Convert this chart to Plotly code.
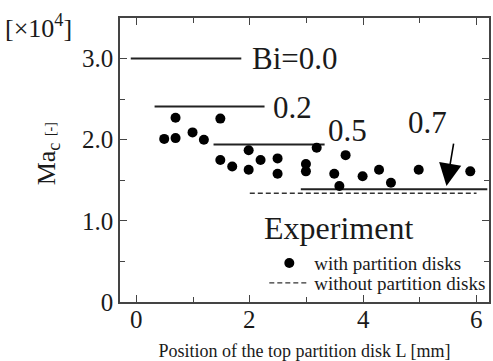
import plotly.graph_objects as go

# Experimental data: with partition disks
L_exp = [0.49, 0.69, 0.69, 0.99, 1.19, 1.48, 1.48, 1.69, 1.98, 1.98, 2.19, 2.49, 2.49,
         2.99, 2.99, 3.18, 3.49, 3.58, 3.69, 3.99, 4.28, 4.49, 4.98, 5.89]
Ma_exp = [2.01, 2.02, 2.27, 2.09, 2.00, 2.26, 1.75, 1.67, 1.87, 1.63, 1.75, 1.77, 1.58,
          1.70, 1.61, 1.90, 1.58, 1.43, 1.81, 1.55, 1.63, 1.47, 1.63, 1.61]

# Predicted critical Ma for each Bi (horizontal segments)
Bi_labels = ["Bi=0.0", "0.2", "0.5", "0.7"]
Bi_x0 = [-0.10, 0.32, 1.36, 2.90]
Bi_x1 = [1.85, 2.26, 3.32, 6.19]
Bi_Ma = [3.00, 2.41, 1.94, 1.39]
Bi_label_x = [2.00, 2.38, 3.35, 4.75]
Bi_label_y = [3.00, 2.40, 2.11, 2.21]

# Without partition disks (dashed)
L_nodisk = [2.0, 6.0]
Ma_nodisk = [1.34, 1.34]

# Arrow pointing to Bi=0.7 line
arrow_tail = (5.60, 1.97)
arrow_tip = (5.47, 1.43)

# Axis ticks
x_tickvals = [0, 2, 4, 6]
x_ticktext = ["0", "2", "4", "6"]
y_tickvals = [0, 1, 2, 3]
y_ticktext = ["0", "1.0", "2.0", "3.0"]

FONT = "'Liberation Serif', 'Times New Roman', serif"
INK = "#1a1a1a"

fig = go.Figure()

for i in range(len(Bi_labels)):
    fig.add_trace(go.Scatter(x=[Bi_x0[i], Bi_x1[i]], y=[Bi_Ma[i], Bi_Ma[i]], mode="lines",
                             line=dict(color="#222222", width=2), showlegend=False,
                             hoverinfo="skip"))

fig.add_trace(go.Scatter(x=L_exp, y=Ma_exp, mode="markers",
                         marker=dict(color="black", size=10),
                         name="with partition disks", legend="legend"))
fig.add_trace(go.Scatter(x=L_nodisk, y=Ma_nodisk, mode="lines",
                         line=dict(color="#333333", width=1.3, dash="5px,3px"),
                         name="without partition disks", legend="legend2"))

for i, t in enumerate(Bi_labels):
    fig.add_annotation(x=Bi_label_x[i], y=Bi_label_y[i], text=t, showarrow=False,
                       xanchor="left", yanchor="middle",
                       font=dict(family=FONT, size=31, color=INK))

fig.add_annotation(x=arrow_tip[0], y=arrow_tip[1], ax=arrow_tail[0], ay=arrow_tail[1],
                   axref="x", ayref="y", xref="x", yref="y", text="",
                   showarrow=True, arrowhead=2, arrowsize=2.8, arrowwidth=1.6,
                   arrowcolor="black")

# x tick labels placed on the x scale, close to the axis line
for v, t in zip(x_tickvals, x_ticktext):
    fig.add_annotation(x=v, xref="x", y=0, yref="paper", yanchor="top", yshift=-2,
                       text=t, showarrow=False,
                       font=dict(family=FONT, size=25, color=INK))

# Legend heading
fig.add_annotation(xref="paper", yref="paper", x=0.386, y=0.26, xanchor="left",
                   yanchor="middle", text="Experiment", showarrow=False,
                   font=dict(family=FONT, size=32, color=INK))

# Unit label and y-axis title
fig.add_annotation(xref="paper", yref="paper", x=-0.22, y=0.97, xanchor="center",
                   yanchor="middle", text="[×10<sup>4</sup>]", showarrow=False,
                   font=dict(family=FONT, size=26, color=INK))
fig.add_annotation(xref="paper", yref="paper", x=-0.195, y=0.52, xanchor="center",
                   yanchor="middle", textangle=-90,
                   text="Ma<sub>c</sub> <span style='font-size:14px'>[-]</span>",
                   showarrow=False, font=dict(family=FONT, size=26, color=INK))

axis_common = dict(showline=True, linecolor="#444444", linewidth=1.5, mirror="ticks",
                   ticks="inside", tickcolor="#444444", tickwidth=1.3, ticklen=7,
                   showgrid=False, zeroline=False, automargin=False,
                   tickfont=dict(family=FONT, size=25, color=INK))

fig.update_xaxes(range=[-0.29, 6.22], tickvals=x_tickvals, showticklabels=False,
                 minor=dict(dtick=1, tick0=0, ticks="inside", ticklen=5,
                            tickcolor="#444444", tickwidth=1.3),
                 title=dict(text="Position of the top partition disk L [mm]",
                            font=dict(family=FONT, size=18, color=INK), standoff=43),
                 **axis_common)
fig.update_yaxes(range=[0, 3.5], tickvals=y_tickvals, ticktext=y_ticktext,
                 minor=dict(dtick=0.5, tick0=0, ticks="inside", ticklen=5,
                            tickcolor="#444444", tickwidth=1.3),
                 **axis_common)

leg_common = dict(xanchor="left", yanchor="middle", bgcolor="rgba(0,0,0,0)", borderwidth=0,
                  font=dict(family=FONT, size=19, color=INK), itemwidth=40)
fig.update_layout(
    width=493, height=361,
    margin=dict(l=120, r=3, t=18, b=59),
    plot_bgcolor="white", paper_bgcolor="white",
    font=dict(family=FONT, color=INK),
    showlegend=True,
    legend=dict(x=0.39, y=0.137, **leg_common),
    legend2=dict(x=0.39, y=0.067, **leg_common),
)

fig.write_html("out.html")
